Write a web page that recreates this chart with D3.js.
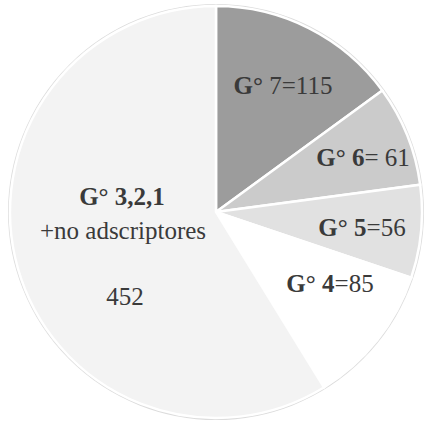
<!DOCTYPE html>
<meta charset="utf-8">
<style>
  body { margin: 0; background: #fff; }
  text { font-family: "Liberation Serif", "DejaVu Serif", serif; fill: #3a3a3a; }
</style>
<body>
<div id="chart"></div>
<script src="https://d3js.org/d3.v7.min.js"></script>
<script>
  // slices, clockwise from 12 o'clock
  const grades = ["G° 7", "G° 6", "G° 5", "G° 4", "G° 3,2,1"];
  const counts = [115, 61, 56, 85, 452];
  const fills = ["#9c9c9c", "#cbcbcb", "#e1e1e1", "#ffffff", "#f3f3f3"];

  const width = 426, height = 426;
  const radius = 206;

  const svg = d3.select("#chart").append("svg")
      .attr("width", width)
      .attr("height", height);

  const g = svg.append("g").attr("transform", "translate(216,212)");

  const pie = d3.pie().value(d => d).sort(null);
  const arc = d3.arc().innerRadius(0).outerRadius(radius);
  const slices = pie(counts);

  g.append("circle")
      .attr("r", radius + 1)
      .attr("fill", "none")
      .attr("stroke", "#dcdcdc")
      .attr("stroke-width", 2);

  g.selectAll("path")
    .data(slices)
    .enter().append("path")
      .attr("d", arc)
      .attr("fill", (d, i) => fills[i])
      .attr("stroke", "#fff")
      .attr("stroke-width", 2.5);

  // label offsets (px from centre) for each slice
  const labelPos = [[67, -124], [147, -52], [146, 18], [114, 74]];
  const boldNum = [false, true, true, true];

  slices.slice(0, 4).forEach((d, i) => {
    const t = g.append("text")
        .attr("x", labelPos[i][0])
        .attr("y", labelPos[i][1])
        .attr("text-anchor", "middle")
        .attr("dominant-baseline", "middle")
        .style("font-size", "25px");
    const parts = grades[i].split(" ");
    t.append("tspan").attr("font-weight", "bold").text(parts[0] + " ");
    t.append("tspan").attr("font-weight", boldNum[i] ? "bold" : "normal").text(parts[1]);
    t.append("tspan").text(i === 1 ? "= " + d.data : "=" + d.data);
  });

  // big slice label
  g.append("text")
      .attr("x", -94).attr("y", -13)
      .attr("text-anchor", "middle")
      .attr("dominant-baseline", "middle")
      .attr("font-weight", "bold")
      .style("font-size", "25px")
      .text(grades[4]);
  g.append("text")
      .attr("x", -93).attr("y", 21)
      .attr("text-anchor", "middle")
      .attr("dominant-baseline", "middle")
      .style("font-size", "25px")
      .text("+no adscriptores");
  g.append("text")
      .attr("x", -91).attr("y", 87)
      .attr("text-anchor", "middle")
      .attr("dominant-baseline", "middle")
      .style("font-size", "25px")
      .text(counts[4]);
</script>
</body>
